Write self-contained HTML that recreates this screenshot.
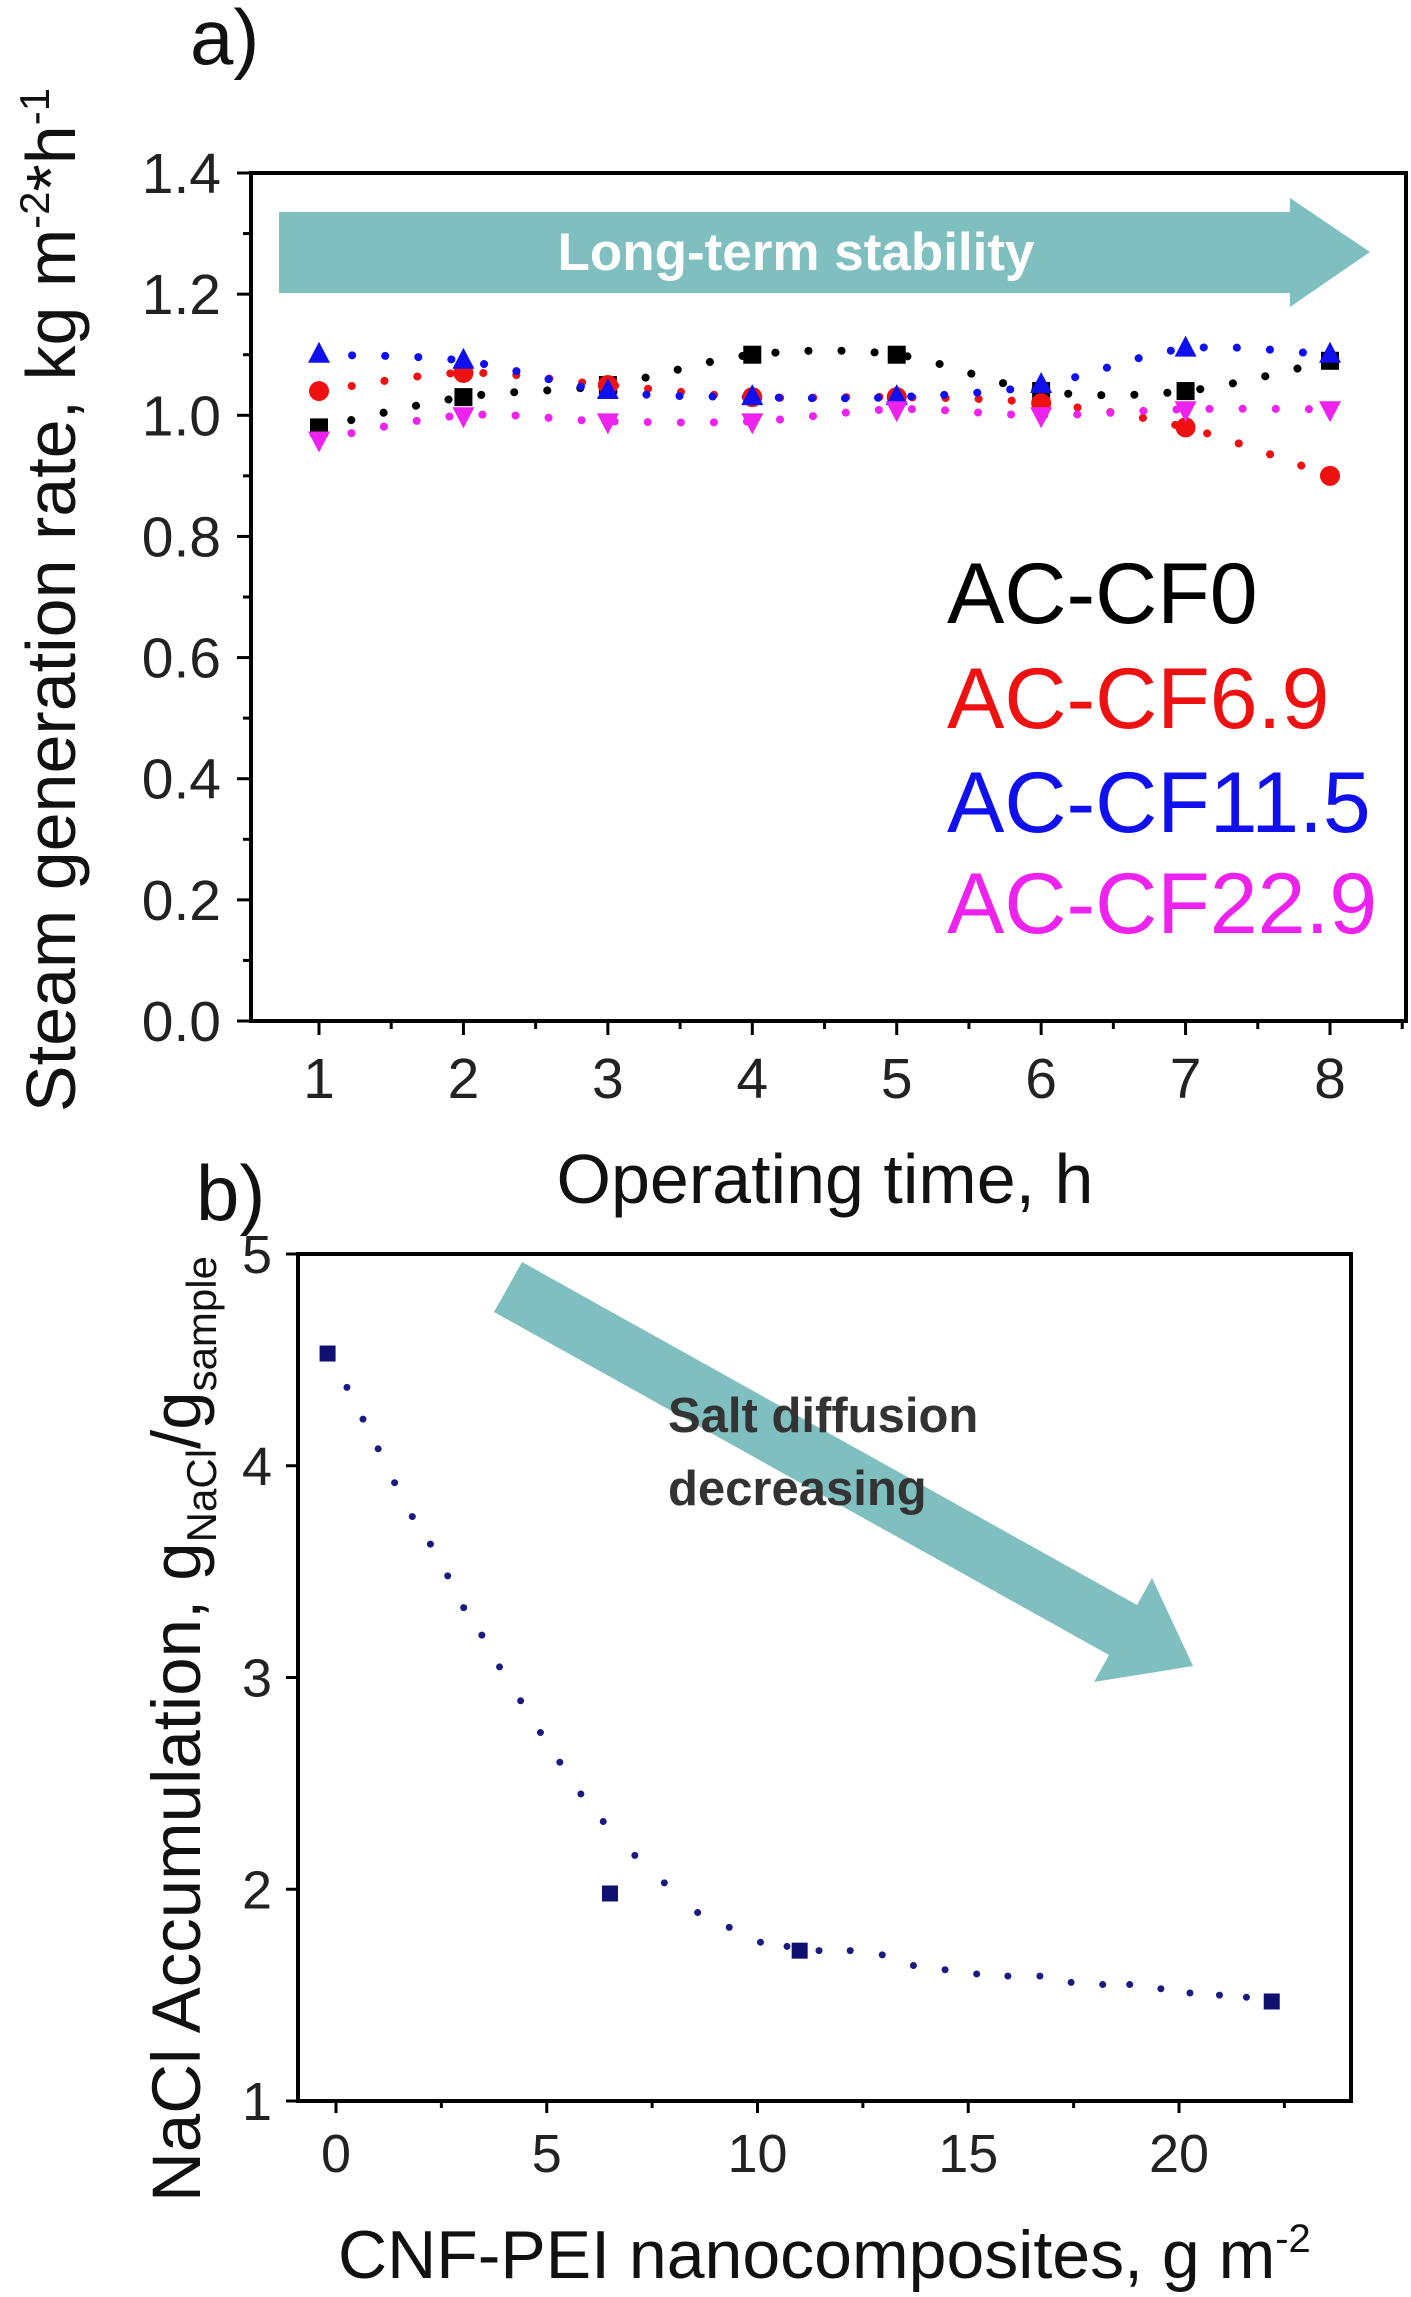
<!DOCTYPE html>
<html><head><meta charset="utf-8"><style>
html,body{margin:0;padding:0;background:#fff;}
svg{display:block;font-family:"Liberation Sans",Arial,sans-serif;}
</style></head><body>
<svg id="fig" width="1411" height="2297" viewBox="0 0 1411 2297">
<text x="190" y="64" font-size="78" fill="#111">a)</text>
<text x="196" y="1220" font-size="78" fill="#111">b)</text>
<g id="ga"></g>
<g id="gb"></g>
</svg>
<script>
// ---------- Chart A data ----------
const aHours = [1,2,3,4,5,6,7,8];
const aYTicks = [0.0,0.2,0.4,0.6,0.8,1.0,1.2,1.4];
const aCF0 = [0.98,1.03,1.05,1.10,1.10,1.04,1.04,1.09];
const aCF69 = [1.04,1.07,1.05,1.03,1.03,1.02,0.98,0.90];
const aCF115 = [1.10,1.09,1.04,1.03,1.03,1.05,1.11,1.10];
const aCF229 = [0.96,1.00,0.99,0.99,1.01,1.00,1.01,1.01];
const aSeriesNames = ["AC-CF0","AC-CF6.9","AC-CF11.5","AC-CF22.9"];
// ---------- Chart B data ----------
const bX = [-0.2,6.5,11,22.2];
const bY = [4.53,1.98,1.71,1.47];
const bFitX = [0.26,0.64,1.0,1.39,1.81,2.24,2.65,3.03,3.46,3.88,4.38,4.85,5.31,5.81,6.34,7.09,7.79,8.58,9.33,10.07,10.7,11.46,12.2,12.96,13.7,14.45,15.2,15.94,16.7,17.44,18.19,18.83,19.57,20.26,20.96,21.6];
const bFitY = [4.37,4.22,4.08,3.92,3.76,3.63,3.48,3.33,3.20,3.05,2.89,2.74,2.60,2.45,2.32,2.16,2.03,1.89,1.82,1.75,1.73,1.71,1.71,1.69,1.64,1.62,1.60,1.59,1.59,1.56,1.55,1.55,1.53,1.51,1.50,1.49];
const bXTicks = [0,5,10,15,20];
const bYTicks = [1,2,3,4,5];

const NS="http://www.w3.org/2000/svg";
function mk(parent,tag,attrs,text){const e=document.createElementNS(NS,tag);for(const k in attrs)e.setAttribute(k,attrs[k]);if(text!==undefined)e.textContent=text;parent.appendChild(e);return e;}

// ===== Chart A =====
const ga=document.getElementById('ga');
const aL=251,aR=1406,aT=173,aB=1021;
const ax=v=>319+(v-1)*(1330-319)/7;
const ay=v=>aB-(v/1.4)*(aB-aT);
let fr=mk(ga,'rect',{x:aL,y:aT,width:aR-aL,height:aB-aT,fill:'none',stroke:'#000','stroke-width':4});


let arr=mk(ga,'polygon',{points:'279,212 1290,212 1290,198 1370,252 1290,307 1290,293 279,293',fill:'#80bfbf'});


let at=mk(ga,'text',{x:796,y:270,'font-size':53,'font-weight':'bold',fill:'#fff','text-anchor':'middle'},'Long-term stability');


aYTicks.forEach(v=>{
  const y=ay(v);
  const t=mk(ga,'line',{x1:aL-14,x2:aL,y1:y,y2:y,stroke:'#000','stroke-width':3});
  
  
  const l=mk(ga,'text',{x:aL-30,y:y+20,'font-size':57,'text-anchor':'end',fill:'#222'},v.toFixed(1));
  
  
  if(v<1.4){const m=mk(ga,'line',{x1:aL-8,x2:aL,y1:ay(v+0.1),y2:ay(v+0.1),stroke:'#000','stroke-width':3});
  
  }
});
aHours.forEach(h=>{
  const x=ax(h);
  const t=mk(ga,'line',{x1:x,x2:x,y1:aB,y2:aB+14,stroke:'#000','stroke-width':3});
  
  
  const l=mk(ga,'text',{x:x,y:1098,'font-size':57,'text-anchor':'middle',fill:'#222'},String(h));
  
  
  const mx=ax(h-0.5);if(mx>aL){const m=mk(ga,'line',{x1:mx,x2:mx,y1:aB,y2:aB+8,stroke:'#000','stroke-width':3});
  
  }
});
{const mx=ax(8.5);const m=mk(ga,'line',{x1:mx,x2:mx,y1:aB,y2:aB+8,stroke:'#000','stroke-width':3});

}
let yt=mk(ga,'text',{transform:'translate(75,600) rotate(-90)','font-size':70,'text-anchor':'middle',fill:'#111'});


yt.innerHTML='Steam generation rate, kg m<tspan dy="-26" font-size="42">-2</tspan><tspan dy="26">*h</tspan><tspan dy="-26" font-size="42">-1</tspan>';
let xt=mk(ga,'text',{x:825,y:1203,'font-size':70,'text-anchor':'middle',fill:'#111'},'Operating time, h');



const aSeries=[aCF0,aCF69,aCF115,aCF229];
const aColors=['#000','#ee1111','#1010ee','#ee22ee'];
const aShapes=['square','circle','up','down'];
function smoothPath(pts){let d=`M${pts[0][0]},${pts[0][1]}`;for(let i=0;i<pts.length-1;i++){const p0=pts[i-1]||pts[i],p1=pts[i],p2=pts[i+1],p3=pts[i+2]||p2;const c1=[p1[0]+(p2[0]-p0[0])/6,p1[1]+(p2[1]-p0[1])/6],c2=[p2[0]-(p3[0]-p1[0])/6,p2[1]-(p3[1]-p1[1])/6];d+=` C${c1[0]},${c1[1]} ${c2[0]},${c2[1]} ${p2[0]},${p2[1]}`;}return d;}
aSeries.forEach((s,si)=>{
  const pts=s.map((v,i)=>[ax(aHours[i]),ay(v)]);
  const p=mk(ga,'path',{d:smoothPath(pts),fill:'none',stroke:aColors[si],'stroke-width':8,'stroke-dasharray':'0.1 33','stroke-linecap':'round'});
  
  
});
aSeries.forEach((s,si)=>{
  s.forEach((v,i)=>{
    const x=ax(aHours[i]),y=ay(v);let m;
    if(aShapes[si]==='square')m=mk(ga,'rect',{x:x-9,y:y-9,width:18,height:18,fill:aColors[si]});
    else if(aShapes[si]==='circle')m=mk(ga,'circle',{cx:x,cy:y,r:10,fill:aColors[si]});
    else if(aShapes[si]==='up')m=mk(ga,'polygon',{points:`${x},${y-13} ${x+11},${y+8} ${x-11},${y+8}`,fill:aColors[si]});
    else m=mk(ga,'polygon',{points:`${x},${y+13} ${x+11},${y-8} ${x-11},${y-8}`,fill:aColors[si]});
    
    
  });
});
const legY=[623,728,832,933];
aSeriesNames.forEach((n,i)=>{
  const t=mk(ga,'text',{x:947,y:legY[i],'font-size':86,fill:aColors[i]},n);
  
  
});

// ===== Chart B =====
const gb=document.getElementById('gb');
const bL=298,bR=1351,bT=1254,bB=2101;
const bx=v=>336+v*(1179-336)/20;
const by=v=>bB-(v-1)/4*(bB-bT);
let fb=mk(gb,'rect',{x:bL,y:bT,width:bR-bL,height:bB-bT,fill:'none',stroke:'#000','stroke-width':4});


let arrb=mk(gb,'polygon',{points:'522,1262 1137,1605 1152,1578 1193,1666 1094,1682 1109,1655 494,1312',fill:'#80bfbf'});


let s1=mk(gb,'text',{x:668,y:1432,'font-size':49,'font-weight':'bold',fill:'#333'},'Salt diffusion');


let s2=mk(gb,'text',{x:668,y:1505,'font-size':49,'font-weight':'bold',fill:'#333'},'decreasing');


bYTicks.forEach(v=>{
  const y=by(v);
  const t=mk(gb,'line',{x1:bL-12,x2:bL,y1:y,y2:y,stroke:'#000','stroke-width':3});
  
  
  const l=mk(gb,'text',{x:bL-26,y:y+19,'font-size':54,'text-anchor':'end',fill:'#222'},String(v));
  
  
});
bXTicks.forEach(v=>{
  const x=bx(v);
  const t=mk(gb,'line',{x1:x,x2:x,y1:bB,y2:bB+12,stroke:'#000','stroke-width':3});
  
  
  const l=mk(gb,'text',{x:x,y:2172,'font-size':54,'text-anchor':'middle',fill:'#222'},String(v));
  
  
  const mx=bx(v+2.5);const m=mk(gb,'line',{x1:mx,x2:mx,y1:bB,y2:bB+7,stroke:'#000','stroke-width':3});
  
  
});
let ybt=mk(gb,'text',{transform:'translate(200,1729) rotate(-90)','font-size':69,'text-anchor':'middle',fill:'#111'});


ybt.innerHTML='NaCl Accumulation, g<tspan dy="16" font-size="42">NaCl</tspan><tspan dy="-16">/g</tspan><tspan dy="16" font-size="42">sample</tspan>';
let xbt=mk(gb,'text',{x:338,y:2278,'font-size':68,fill:'#111'});


xbt.innerHTML='CNF-PEI nanocomposites, g m<tspan dy="-26" font-size="40">-2</tspan>';
bFitX.forEach((v,i)=>{
  const d=mk(gb,'circle',{cx:bx(v),cy:by(bFitY[i]),r:3.5,fill:'#1a1a80'});
  
  
});
bX.forEach((v,i)=>{
  const m=mk(gb,'rect',{x:bx(v)-8,y:by(bY[i])-8,width:16,height:16,fill:'#101070'});
  
  
});
</script>
</body></html>
